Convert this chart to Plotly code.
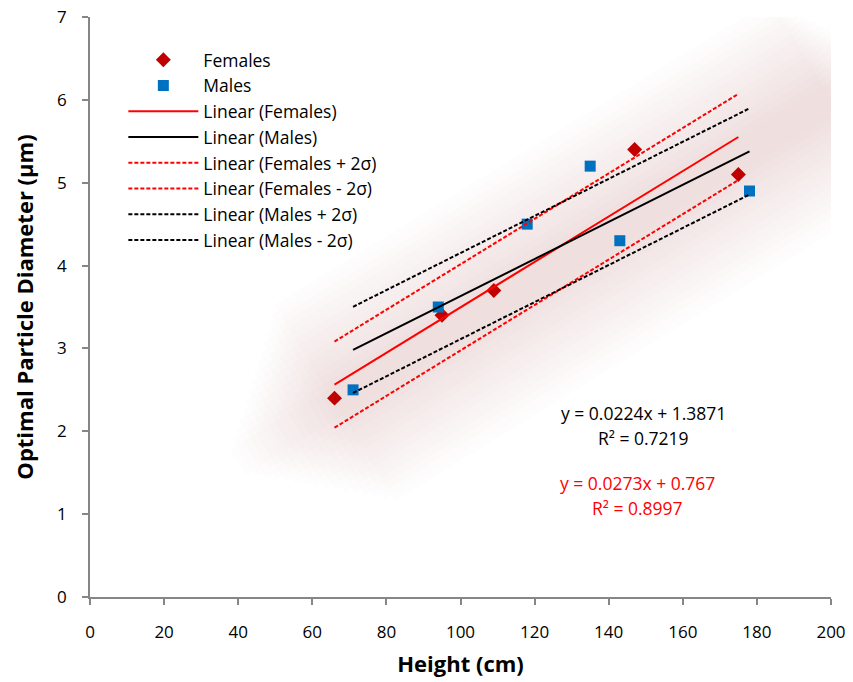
import numpy as np
import plotly.graph_objects as go

# ---- data ----
female_height = [66, 95, 109, 147, 175]
female_diam = [2.4, 3.4, 3.7, 5.4, 5.1]
male_height = [71, 94, 118, 135, 143, 178]
male_diam = [2.5, 3.5, 4.5, 5.2, 4.3, 4.9]
female_2sigma = 0.52
male_2sigma = 0.52
x_ticks = list(range(0, 201, 20))
y_ticks = list(range(0, 8))

FONT = "Open Sans"
RED = "#FF0000"
BLACK = "#000000"

fc = np.polyfit(female_height, female_diam, 1)
mc = np.polyfit(male_height, male_diam, 1)
fx = np.array([min(female_height), max(female_height)])
mx = np.array([min(male_height), max(male_height)])
fy = np.polyval(fc, fx)
my = np.polyval(mc, mx)

fig = go.Figure()

# soft background glow along the trend (many faint layers so the edges fade)
n_layers = 16
for k in range(n_layers):
    t = k / (n_layers - 1)
    x0 = 66 - 26 * t
    x1 = 200 + 15 * t
    gx = np.array([x0, x1])
    gy = np.polyval(fc, gx) - 0.22
    w = 230 - 200 * t
    fig.add_trace(go.Scatter(x=gx, y=gy, mode="lines", showlegend=False, hoverinfo="skip",
                             line=dict(color="rgba(205,80,80,0.01)", width=w)))

fig.add_trace(go.Scatter(x=female_height, y=female_diam, mode="markers", name="Females",
                         marker=dict(symbol="diamond", size=11.5, color="#C00000")))
fig.add_trace(go.Scatter(x=male_height, y=male_diam, mode="markers", name="Males",
                         marker=dict(symbol="square", size=11, color="#0070C0")))
fig.add_trace(go.Scatter(x=fx, y=fy, mode="lines", name="Linear (Females)",
                         line=dict(color=RED, width=2)))
fig.add_trace(go.Scatter(x=mx, y=my, mode="lines", name="Linear (Males)",
                         line=dict(color=BLACK, width=2)))
fig.add_trace(go.Scatter(x=fx, y=fy + female_2sigma, mode="lines", name="Linear (Females + 2σ)",
                         line=dict(color=RED, width=2, dash="4px,2px")))
fig.add_trace(go.Scatter(x=fx, y=fy - female_2sigma, mode="lines", name="Linear (Females - 2σ)",
                         line=dict(color=RED, width=2, dash="4px,2px")))
fig.add_trace(go.Scatter(x=mx, y=my + male_2sigma, mode="lines", name="Linear (Males + 2σ)",
                         line=dict(color=BLACK, width=2, dash="4px,2px")))
fig.add_trace(go.Scatter(x=mx, y=my - male_2sigma, mode="lines", name="Linear (Males - 2σ)",
                         line=dict(color=BLACK, width=2, dash="4px,2px")))

ann_font = dict(family=FONT, size=17.5)
annotations = [
    dict(x=149.5, y=2.22, text="y = 0.0224x + 1.3871", font=dict(color=BLACK, **ann_font)),
    dict(x=149.5, y=1.92, text="R² = 0.7219", font=dict(color=BLACK, **ann_font)),
    dict(x=147.8, y=1.375, text="y = 0.0273x + 0.767", font=dict(color=RED, **ann_font)),
    dict(x=147.8, y=1.07, text="R² = 0.8997", font=dict(color=RED, **ann_font)),
]
for a in annotations:
    a.update(xref="x", yref="y", showarrow=False, xanchor="center", yanchor="middle")

axis_common = dict(showgrid=False, zeroline=False, showline=True, linecolor="#868686", linewidth=1.5,
                   ticks="outside", ticklen=6, tickcolor="#868686", tickwidth=1.5, automargin=False,
                   tickfont=dict(family=FONT, size=17, color="#000000"))

fig.update_layout(
    width=853, height=682,
    margin=dict(l=90, r=22, t=17, b=85),
    paper_bgcolor="white", plot_bgcolor="white",
    font=dict(family=FONT, color="#000000"),
    annotations=annotations,
    xaxis=dict(range=[0, 200], tickvals=x_ticks, ticktext=[str(v) for v in x_ticks],
               ticklabelstandoff=13,
               title=dict(text="<b>Height (cm)</b>", font=dict(family=FONT, size=22), standoff=14),
               **axis_common),
    yaxis=dict(range=[0, 7], tickvals=y_ticks, ticktext=[str(v) for v in y_ticks],
               ticklabelstandoff=12,
               title=dict(text="<b>Optimal Particle Diameter (µm)</b>", font=dict(family=FONT, size=22), standoff=17),
               **axis_common),
    legend=dict(x=0.045, y=0.957, xanchor="left", yanchor="top", bgcolor="rgba(0,0,0,0)",
                font=dict(family=FONT, size=17.5), tracegroupgap=0, itemwidth=70),
    showlegend=True,
)

fig.write_html("out.html", config={"displayModeBar": False},
               post_script="document.body.style.margin='0px';")
